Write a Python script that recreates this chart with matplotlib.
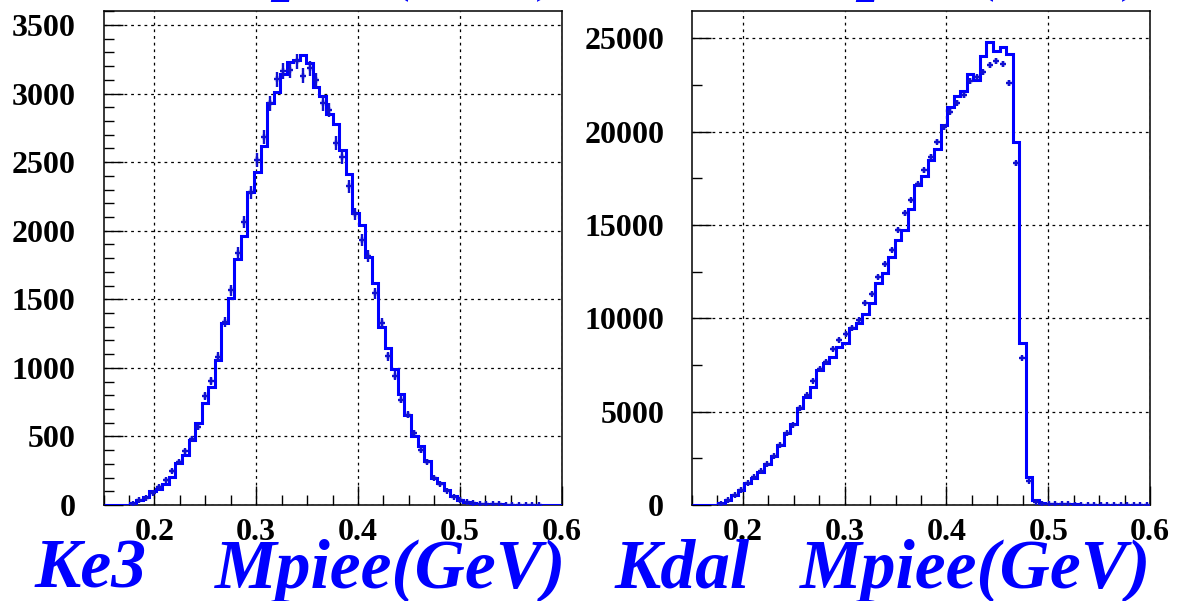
import numpy as np
import matplotlib
matplotlib.use("Agg")
import matplotlib.pyplot as plt
from matplotlib.ticker import MultipleLocator, FormatStrFormatter

# 70 bins over the pi-e-e invariant mass range (GeV)
edges = np.linspace(0.15, 0.60, 71)

# Ke3: simulated shape (histogram) and measured counts (points)
ke3_mc = [0, 0, 0, 2, 12, 37, 56, 102, 115, 154,
          202, 305, 366, 474, 598, 744, 859, 1054, 1324, 1512,
          1793, 1963, 2280, 2427, 2617, 2932, 3012, 3139, 3232, 3244,
          3280, 3225, 3045, 2980, 2850, 2776, 2590, 2415, 2132, 2040,
          1805, 1622, 1300, 1146, 988, 810, 659, 505, 427, 319,
          200, 159, 110, 64, 38, 25, 15, 10, 7, 5,
          4, 3, 2, 2, 1, 1, 1, 0, 0, 0]
ke3_data = [0, 0, 0, 0, 10, 40, 50, 90, 134, 180,
            250, 310, 392, 480, 568, 793, 902, 1080, 1337, 1566,
            1837, 2065, 2280, 2517, 2684, 2930, 3105, 3165, 3170, 3235,
            3130, 3184, 3096, 2928, 2880, 2642, 2538, 2325, 2122, 1934,
            1817, 1544, 1324, 1085, 944, 768, 659, 523, 401, 316,
            195, 154, 105, 61, 37, 25, 15, 10, 6, 5,
            4, 3, 2, 2, 1, 1, 1, 0, 0, 0]

# Kdal: simulated shape (histogram) and measured counts (points)
kdal_mc = [0, 0, 0, 0, 89, 268, 536, 804, 1161, 1464,
           1786, 2179, 2643, 3214, 3839, 4321, 5179, 5804, 6339, 7232,
           7589, 7946, 8482, 8696, 9464, 9732, 10214, 10804, 11875, 12411,
           13268, 14196, 14732, 15839, 17150, 17610, 18460, 19080, 20357, 21339,
           21911, 22190, 23100, 22790, 24054, 24820, 24339, 24540, 24150, 19450,
           8696, 1482, 268, 100, 70, 55, 45, 35, 28, 22,
           18, 14, 11, 9, 7, 6, 5, 4, 3, 3]
kdal_data = [0, 0, 0, 0, 80, 260, 520, 790, 1180, 1480,
             1800, 2200, 2643, 3230, 3839, 4300, 5214, 5893, 6661, 7300,
             7679, 8357, 8839, 9150, 9500, 9890, 10804, 11304, 12232, 12911,
             13661, 14732, 15625, 16339, 17190, 17946, 18661, 19464, 20232, 21071,
             21554, 21964, 22714, 22911, 23179, 23571, 23804, 23616, 22625, 18300,
             7893, 1286, 150, 80, 60, 45, 35, 28, 22, 18,
             14, 11, 9, 7, 6, 5, 4, 3, 3, 2]

x_ticks_major = 0.1
x_ticks_minor = 0.025

panels = [
    dict(mc=ke3_mc, data=ke3_data, ymax=3602, major=500, minor=100,
         left=103.5, tag="Ke3", tag_x=35, title_x=215),
    dict(mc=kdal_mc, data=kdal_data, ymax=26470, major=5000, minor=2500,
         left=692.0, tag="Kdal", tag_x=615, title_x=800),
]

W, H = 1178, 601
plt.rcParams["font.family"] = ["Liberation Serif", "DejaVu Serif"]
plt.rcParams["lines.scale_dashes"] = False

fig = plt.figure(figsize=(W / 100, H / 100), dpi=100)
fig.patch.set_facecolor("white")

blue = "#0000ff"
point_blue = "#1010d0"
centers = 0.5 * (edges[:-1] + edges[1:])

for p in panels:
    ax = fig.add_axes([p["left"] / W, (H - 505) / H, 458 / W, (505 - 11) / H])
    ax.set_xlim(edges[0], edges[-1])
    ax.set_ylim(0, p["ymax"])
    ax.set_axisbelow(True)

    ax.stairs(p["mc"], edges, color=blue, linewidth=2.2, zorder=3)

    d = np.asarray(p["data"], dtype=float)
    keep = d > 0
    ax.errorbar(centers[keep], d[keep], yerr=np.sqrt(d[keep]), fmt="+",
                color=point_blue, ms=5, mew=1.7, elinewidth=1.7,
                capsize=0, zorder=4)

    ax.xaxis.set_major_locator(MultipleLocator(x_ticks_major))
    ax.xaxis.set_minor_locator(MultipleLocator(x_ticks_minor))
    ax.xaxis.set_major_formatter(FormatStrFormatter("%.1f"))
    ax.yaxis.set_major_locator(MultipleLocator(p["major"]))
    ax.yaxis.set_minor_locator(MultipleLocator(p["minor"]))

    ax.grid(True, which="major", color="black", linewidth=0.9,
            linestyle=(0, (2.0, 2.8)))

    ax.tick_params(which="both", direction="in", color="black", width=1.0,
                   top=False, right=False, labelsize=23)
    ax.tick_params(which="major", length=13.5)
    ax.tick_params(which="minor", length=7)
    ax.tick_params(axis="x", pad=9)
    ax.tick_params(axis="y", pad=20)
    for lab in ax.get_xticklabels() + ax.get_yticklabels():
        lab.set_fontweight("bold")

    for side, sp in ax.spines.items():
        sp.set_color("black")
        sp.set_linewidth(1.1)

    text_kw = dict(fontsize=50, fontweight="bold", fontstyle="italic",
                   color=blue, ha="left", va="baseline")
    base = (H - 588) / H
    fig.text(p["tag_x"] / W, base, p["tag"], **text_kw)
    fig.text(p["title_x"] / W, base, "Mpiee(GeV)", **text_kw)
    # same axis caption of the row above, cut by the top edge
    top = 1 + 13 / H
    fig.text(p["tag_x"] / W, top, p["tag"], **text_kw)
    fig.text(p["title_x"] / W, top, "Mpiee(GeV)", **text_kw)

fig.savefig("out.png", dpi=100, facecolor="white")
